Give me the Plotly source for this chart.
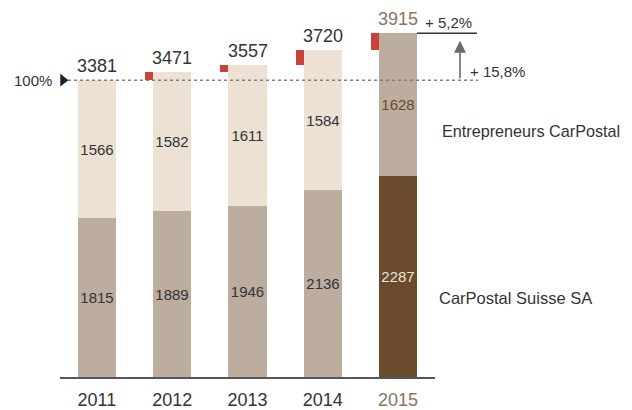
import plotly.graph_objects as go

years = ["2011", "2012", "2013", "2014", "2015"]
suisse = [1815, 1889, 1946, 2136, 2287]          # CarPostal Suisse SA
entrepreneurs = [1566, 1582, 1611, 1584, 1628]   # Entrepreneurs CarPostal
totals = [3381, 3471, 3557, 3720, 3915]
growth_year = "+ 5,2%"
growth_total = "+ 15,8%"
ref_label = "100%"
series_names = ["CarPostal Suisse SA", "Entrepreneurs CarPostal"]

BEIGE = "#ECE1D3"
TAUPE = "#BCAD9E"
BROWN = "#6A4B2D"
RED = "#C9413A"
DARK = "#333338"
HIGHLIGHT = "#8A7564"

xs = list(range(len(years)))
last = len(years) - 1
W = 0.505

# page has an 8px body margin: figure occupies page (8..632, 8..410)
OFF = 8
PX0, PW = 60, 375            # plot area left edge / width in page pixels
BASE_PX = 381                # baseline in page pixels
SCALE = 300 / 3381           # px per unit
FIG_W, FIG_H = 632 - OFF, 410 - OFF
plot_h = BASE_PX - OFF
ymax = plot_h / SCALE

def px(p):
    return (p - PX0) / PW

def yv(p):
    return (BASE_PX - p) / SCALE

lower_colors = [BROWN if i == last else TAUPE for i in xs]
upper_colors = [TAUPE if i == last else BEIGE for i in xs]
lower_txt = ["#EDE3D6" if i == last else DARK for i in xs]
upper_txt = [BROWN if i == last else DARK for i in xs]

fig = go.Figure()
fig.add_trace(go.Bar(
    x=xs, y=suisse, width=W, marker=dict(color=lower_colors, line=dict(width=0)),
    text=[str(v) for v in suisse], textposition="inside", insidetextanchor="middle",
    textfont=dict(size=15, color=lower_txt), constraintext="none", textangle=0,
    name=series_names[0], showlegend=False, hoverinfo="skip"))
fig.add_trace(go.Bar(
    x=xs, y=entrepreneurs, base=suisse, width=W,
    marker=dict(color=upper_colors, line=dict(width=0)),
    text=[str(v) for v in entrepreneurs], textposition="inside", insidetextanchor="middle",
    textfont=dict(size=15, color=upper_txt), constraintext="none", textangle=0,
    name=series_names[1], showlegend=False, hoverinfo="skip"))

# red increments vs previous year
inc_x = xs[1:]
inc_base = totals[:-1]
inc_h = [totals[i] - totals[i - 1] for i in range(1, len(totals))]
fig.add_trace(go.Bar(
    x=inc_x, y=inc_h, base=inc_base, width=0.106, offset=-0.359,
    marker=dict(color=RED, line=dict(width=0)), showlegend=False, hoverinfo="skip"))

# reference triangle marker
fig.add_trace(go.Scatter(
    x=[-0.45], y=[totals[0]], mode="markers",
    marker=dict(symbol="triangle-right", size=11, color="#1F2330"),
    cliponaxis=False, showlegend=False, hoverinfo="skip"))

annotations = []
for i, t in enumerate(totals):
    annotations.append(dict(
        x=i, y=t, xref="x", yref="y", text=str(t), showarrow=False,
        yanchor="bottom", yshift=2,
        font=dict(size=18, color=HIGHLIGHT if i == last else DARK)))

annotations += [
    dict(x=px(54), y=totals[0], xref="paper", yref="y", text=ref_label, showarrow=False,
         xanchor="right", yanchor="middle", font=dict(size=15, color=DARK)),
    dict(x=px(423), y=yv(23), xref="paper", yref="y", text=growth_year, showarrow=False,
         xanchor="left", yanchor="middle", font=dict(size=15, color=DARK)),
    dict(x=px(468), y=yv(72), xref="paper", yref="y", text=growth_total, showarrow=False,
         xanchor="left", yanchor="middle", font=dict(size=15, color=DARK)),
    dict(x=px(460), y=yv(41), xref="paper", yref="y", text="", showarrow=True,
         ax=0, ay=39, arrowhead=2, arrowsize=1.5,
         arrowwidth=1.6, arrowcolor="#6A6B70"),
    dict(x=px(440), y=yv(132), xref="paper", yref="y",
         text=series_names[1], showarrow=False, xanchor="left", yanchor="middle",
         font=dict(size=16.2, color=DARK)),
    dict(x=px(437), y=yv(301), xref="paper", yref="y",
         text=series_names[0], showarrow=False, xanchor="left", yanchor="middle",
         font=dict(size=16.5, color=DARK)),
]

shapes = [
    dict(type="line", xref="paper", yref="y", x0=px(68), x1=px(478),
         y0=totals[0], y1=totals[0], line=dict(color="#808080", width=1.5, dash="dot"),
         layer="above"),
    dict(type="line", xref="paper", yref="y", x0=px(417), x1=px(477),
         y0=totals[last], y1=totals[last], line=dict(color=DARK, width=1.5),
         layer="above"),
]

ticktext = [f'<span style="color:{HIGHLIGHT}">{y}</span>' if i == last else y
            for i, y in enumerate(years)]

fig.update_layout(
    width=FIG_W, height=FIG_H,
    margin=dict(l=PX0 - OFF, r=FIG_W - (PX0 - OFF) - PW, t=0, b=FIG_H - plot_h, pad=0),
    paper_bgcolor="white", plot_bgcolor="white",
    barmode="overlay", bargap=0,
    font=dict(family="Arial, 'Liberation Sans', sans-serif", color=DARK),
    xaxis=dict(range=[-0.49, 4.49], tickvals=xs, ticktext=ticktext,
               tickfont=dict(size=18, color=DARK), showgrid=False, zeroline=False,
               showline=True, linecolor="#55565B", linewidth=1.5, ticks="",
               ticklabelstandoff=6, fixedrange=True),
    yaxis=dict(range=[0, ymax], visible=False, fixedrange=True),
    annotations=annotations, shapes=shapes,
)

fig.write_html("out.html")
